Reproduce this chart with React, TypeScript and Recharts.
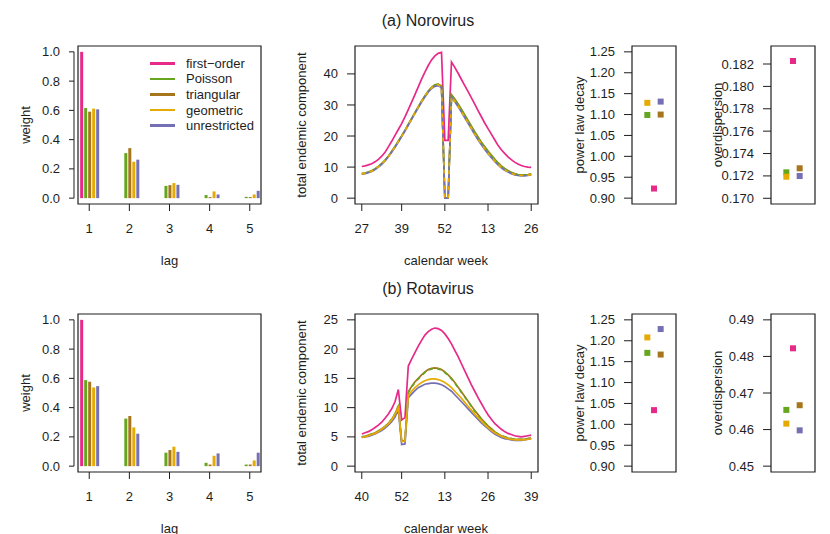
import type { CSSProperties, ReactNode } from "react";
import {
  Bar,
  BarChart,
  Line,
  LineChart,
  ReferenceArea,
  Scatter,
  ScatterChart,
  XAxis,
  YAxis,
} from "recharts";

// models, in the order used by all panels
const modelNames = ["first\u2212order", "Poisson", "triangular", "geometric", "unrestricted"];
const modelKeys = ["firstOrder", "poisson", "triangular", "geometric", "unrestricted"];
const modelColors = ["#E7298A", "#66A61E", "#A6761D", "#E6AB02", "#7570B3"];
const modelOffsets = [0, -1, 1, -1, 1];
const lineDrawOrder = [0, 2, 1, 4, 3];
// where two curves coincide one of them is dashed
const noroLineDashes = [undefined, undefined, undefined, "4 4", undefined];
const rotaLineDashes = [undefined, "4 4", undefined, undefined, undefined];

// lag weights
const lags = [1, 2, 3, 4, 5];
const noroWFirstOrder = [1, 0, 0, 0, 0];
const noroWPoisson = [0.616, 0.308, 0.084, 0.021, 0.009];
const noroWTriangular = [0.591, 0.342, 0.089, 0.007, 0.007];
const noroWGeometric = [0.612, 0.249, 0.103, 0.046, 0.025];
const noroWUnrestricted = [0.607, 0.263, 0.091, 0.025, 0.05];

const rotaWFirstOrder = [1, 0, 0, 0, 0];
const rotaWPoisson = [0.588, 0.325, 0.092, 0.023, 0.011];
const rotaWTriangular = [0.577, 0.343, 0.11, 0.011, 0.011];
const rotaWGeometric = [0.538, 0.265, 0.133, 0.071, 0.039];
const rotaWUnrestricted = [0.547, 0.222, 0.098, 0.087, 0.092];

// calendar weeks
const noroWeeks = [
  27, 28, 29, 30, 31, 32, 33, 34, 35, 36, 37, 38, 39, 40, 41, 42, 43, 44, 45, 46, 47, 48, 49, 50, 51, 52,
  1, 2, 3, 4, 5, 6, 7, 8, 9, 10, 11, 12, 13, 14, 15, 16, 17, 18, 19, 20, 21, 22, 23, 24, 25, 26,
];
const noroTickWeeks = [27, 39, 52, 13, 26];
const rotaWeeks = [
  40, 41, 42, 43, 44, 45, 46, 47, 48, 49, 50, 51, 52,
  1, 2, 3, 4, 5, 6, 7, 8, 9, 10, 11, 12, 13, 14, 15, 16, 17, 18, 19, 20, 21, 22, 23, 24, 25, 26,
  27, 28, 29, 30, 31, 32, 33, 34, 35, 36, 37, 38, 39,
];
const rotaTickWeeks = [40, 52, 13, 26, 39];

// total endemic component
const noroEndFirstOrder = [
  10.2, 10.4, 10.7, 11.1, 11.7, 12.5, 13.5, 14.8, 16.5, 18.3, 20.2, 22.1, 24.0, 26.2, 28.5, 30.9, 33.3,
  35.8, 38.3, 40.6, 42.7, 44.5, 45.8, 46.6, 46.9, 18.6, 18.6, 43.8, 42.1, 40.2, 38.2, 36.2, 34.3, 32.3,
  30.3, 28.2, 26.2, 24.2, 22.4, 20.6, 18.8, 17.0, 15.6, 14.4, 13.3, 12.4, 11.6, 11.0, 10.5, 10.2, 10.0, 9.9,
];
const noroEndPoisson = [
  7.9, 8.1, 8.4, 8.8, 9.4, 10.2, 11.1, 12.2, 13.5, 15.0, 16.6, 18.3, 20.0, 21.8, 23.7, 25.6, 27.5, 29.4,
  31.2, 32.9, 34.4, 35.6, 36.4, 36.6, 36.0, 0, 0, 33.1, 31.7, 30.1, 28.4, 26.6, 24.8, 23.0, 21.2, 19.5,
  17.8, 16.4, 15.0, 13.7, 12.4, 11.2, 10.2, 9.4, 8.7, 8.2, 7.8, 7.5, 7.4, 7.4, 7.5, 7.7,
];
const noroEndTriangular = [
  7.9, 8.1, 8.4, 8.8, 9.4, 10.2, 11.1, 12.2, 13.5, 15.0, 16.6, 18.3, 20.0, 21.8, 23.7, 25.6, 27.5, 29.4,
  31.2, 32.9, 34.4, 35.7, 36.5, 36.7, 36.1, 0, 0, 33.3, 31.9, 30.3, 28.6, 26.8, 25.0, 23.2, 21.4, 19.7,
  18.0, 16.6, 15.2, 13.9, 12.6, 11.4, 10.4, 9.6, 8.9, 8.3, 7.9, 7.6, 7.5, 7.5, 7.6, 7.8,
];
const noroEndGeometric = [
  7.8, 8.0, 8.3, 8.7, 9.3, 10.1, 11.0, 12.1, 13.4, 14.9, 16.5, 18.2, 19.9, 21.7, 23.6, 25.5, 27.4, 29.3,
  31.1, 32.8, 34.3, 35.5, 36.3, 36.5, 35.8, 0, 0, 32.6, 31.2, 29.6, 27.9, 26.1, 24.3, 22.5, 20.7, 19.0,
  17.4, 15.9, 14.5, 13.2, 12.0, 10.9, 9.9, 9.1, 8.5, 8.0, 7.6, 7.4, 7.3, 7.3, 7.4, 7.6,
];
const noroEndUnrestricted = [
  7.7, 7.9, 8.2, 8.6, 9.2, 10.0, 10.9, 12.0, 13.3, 14.8, 16.4, 18.1, 19.8, 21.6, 23.5, 25.4, 27.3, 29.1,
  30.9, 32.6, 34.1, 35.3, 36.0, 36.2, 35.6, 0, 0, 32.4, 31.0, 29.4, 27.7, 25.9, 24.1, 22.3, 20.5, 18.8,
  17.2, 15.7, 14.3, 13.0, 11.8, 10.7, 9.8, 9.0, 8.4, 7.9, 7.5, 7.3, 7.2, 7.2, 7.3, 7.5,
];

const rotaEndFirstOrder = [
  5.5, 5.7, 5.9, 6.2, 6.6, 7.0, 7.5, 8.2, 8.9, 9.8, 11.0, 13.1, 7.9, 8.3, 17.1, 18.3, 19.4, 20.5, 21.5,
  22.4, 23.0, 23.4, 23.6, 23.5, 23.2, 22.6, 21.8, 20.9, 19.8, 18.7, 17.5, 16.3, 15.1, 13.9, 12.8, 11.7,
  10.7, 9.7, 8.8, 8.0, 7.3, 6.8, 6.3, 5.9, 5.6, 5.4, 5.2, 5.1, 5.0, 5.1, 5.2, 5.3,
];
const rotaEndPoisson = [
  5.0, 5.1, 5.3, 5.5, 5.7, 6.0, 6.4, 6.8, 7.3, 8.0, 8.9, 10.2, 4.2, 4.4, 12.6, 13.5, 14.3, 14.9, 15.5,
  16.0, 16.4, 16.6, 16.7, 16.6, 16.4, 16.0, 15.5, 14.9, 14.2, 13.4, 12.6, 11.8, 11.0, 10.2, 9.4, 8.7,
  8.0, 7.4, 6.8, 6.3, 5.9, 5.5, 5.2, 5.0, 4.8, 4.7, 4.6, 4.6, 4.6, 4.6, 4.7, 4.8,
];
const rotaEndTriangular = [
  5.0, 5.1, 5.3, 5.5, 5.7, 6.0, 6.4, 6.8, 7.3, 8.0, 8.9, 10.3, 4.3, 4.4, 12.7, 13.6, 14.4, 15.0, 15.6,
  16.1, 16.5, 16.7, 16.8, 16.7, 16.5, 16.1, 15.6, 15.0, 14.3, 13.5, 12.7, 11.9, 11.1, 10.3, 9.5, 8.8,
  8.1, 7.5, 6.9, 6.4, 5.9, 5.5, 5.2, 5.0, 4.8, 4.7, 4.6, 4.6, 4.6, 4.6, 4.7, 4.8,
];
const rotaEndGeometric = [
  4.9, 5.0, 5.2, 5.4, 5.6, 5.9, 6.3, 6.7, 7.2, 7.9, 8.8, 10.0, 4.2, 4.3, 12.1, 12.8, 13.4, 13.9, 14.3,
  14.6, 14.8, 14.9, 14.9, 14.8, 14.6, 14.3, 13.9, 13.4, 12.8, 12.2, 11.6, 10.9, 10.2, 9.6, 8.9, 8.3,
  7.7, 7.1, 6.6, 6.1, 5.7, 5.4, 5.1, 4.9, 4.7, 4.6, 4.5, 4.5, 4.5, 4.5, 4.6, 4.7,
];
const rotaEndUnrestricted = [
  4.9, 5.0, 5.1, 5.3, 5.5, 5.8, 6.1, 6.5, 7.0, 7.6, 8.4, 9.6, 3.7, 3.8, 11.7, 12.3, 12.9, 13.4, 13.7,
  14.0, 14.1, 14.2, 14.2, 14.1, 13.9, 13.6, 13.2, 12.8, 12.2, 11.6, 11.0, 10.4, 9.8, 9.2, 8.6, 8.0,
  7.4, 6.9, 6.4, 5.9, 5.5, 5.2, 4.9, 4.7, 4.6, 4.5, 4.4, 4.4, 4.4, 4.5, 4.6, 4.7,
];

// parameter estimates (first-order, Poisson, triangular, geometric, unrestricted)
const noroDecay = [0.923, 1.099, 1.1, 1.128, 1.131];
const noroOverdisp = [0.18227, 0.17232, 0.17268, 0.17193, 0.17199];
const rotaDecay = [1.034, 1.171, 1.167, 1.208, 1.228];
const rotaOverdisp = [0.48222, 0.46538, 0.46666, 0.46163, 0.45979];

// axis ticks
const weightTicks = [0, 0.2, 0.4, 0.6, 0.8, 1.0];
const noroEndTicks = [0, 10, 20, 30, 40];
const rotaEndTicks = [0, 5, 10, 15, 20, 25];
const decayTicks = [0.9, 0.95, 1.0, 1.05, 1.1, 1.15, 1.2, 1.25];
const noroDispTicks = [0.17, 0.172, 0.174, 0.176, 0.178, 0.18, 0.182];
const rotaDispTicks = [0.45, 0.46, 0.47, 0.48, 0.49];

// layout
const FONT = '"Liberation Sans", Arial, Helvetica, sans-serif';
const INK = "#1e1e1e";
const BOX_H = 158;
const ROW_TOP = [46, 314];
const COL_LEFT = [78, 355, 632, 771];
const COL_W = [183, 183, 44, 44];
const PAD_L = 60;
const PAD_T = 8;
const PAD_R = 8;
const PAD_B = 40;

type AnyProps = any;

function frame(col: number, row: number): CSSProperties {
  return { position: "absolute", left: COL_LEFT[col] - PAD_L, top: ROW_TOP[row] - PAD_T };
}

function YTick(props: AnyProps) {
  const { x = 0, y = 0, payload, digits, gap, len, step, last } = props;
  const v = payload?.value ?? 0;
  const ax = x - gap;
  return (
    <g>
      <line x1={ax - len} x2={ax} y1={y} y2={y} stroke={INK} strokeWidth={1} />
      {gap > 0 && v < last - 1e-9 ? (
        <line x1={ax} x2={ax} y1={y} y2={y - step} stroke={INK} strokeWidth={1} />
      ) : null}
      <text
        x={ax - len - 9}
        y={y}
        dy="0.35em"
        textAnchor="end"
        fontSize={13}
        fontFamily={FONT}
        fill={INK}
      >
        {v.toFixed(digits)}
      </text>
    </g>
  );
}

function XTick(props: AnyProps) {
  const { x = 0, y = 0, payload, format } = props;
  return (
    <g>
      <line x1={x} x2={x} y1={y} y2={y + 7} stroke={INK} strokeWidth={1} />
      <text
        x={x}
        y={y + 24}
        dy="0.35em"
        textAnchor="middle"
        fontSize={13}
        fontFamily={FONT}
        fill={INK}
      >
        {format(payload?.value)}
      </text>
    </g>
  );
}

function yAxisFor(domain: number[], ticks: number[], digits: number, gap = 0, len = 8) {
  const step = ((ticks[1] - ticks[0]) / (domain[1] - domain[0])) * BOX_H;
  return (
    <YAxis
      type="number"
      domain={domain}
      ticks={ticks}
      interval={0}
      allowDataOverflow
      width={PAD_L}
      axisLine={false}
      tickLine={false}
      tickSize={0}
      tickMargin={0}
      tick={(p: AnyProps) => (
        <YTick {...p} digits={digits} gap={gap} len={len} step={step} last={ticks[ticks.length - 1]} />
      )}
    />
  );
}

function boxFor(xd: number[], yd: number[]) {
  return (
    <ReferenceArea
      x1={xd[0]}
      x2={xd[1]}
      y1={yd[0]}
      y2={yd[1]}
      fill="none"
      stroke={INK}
      strokeWidth={1.2}
      ifOverflow="visible"
    />
  );
}

function WeightPanel({ row, series }: { row: number; series: number[][] }) {
  const data = lags.map((lag, i) => {
    const r: Record<string, number> = { lag };
    modelKeys.forEach((k, m) => (r[k] = series[m][i]));
    return r;
  });
  const xd = [0.72, 5.28];
  const yd = [-0.04, 1.04];
  return (
    <div style={frame(0, row)}>
      <BarChart
        width={PAD_L + COL_W[0] + PAD_R}
        height={PAD_T + BOX_H + PAD_B}
        data={data}
        margin={{ top: PAD_T, right: PAD_R, bottom: 0, left: 0 }}
        barGap={1}
      >
        <XAxis
          type="number"
          dataKey="lag"
          domain={xd}
          ticks={lags}
          interval={0}
          allowDataOverflow
          height={PAD_B}
          axisLine={false}
          tickLine={false}
          tickSize={0}
          tickMargin={0}
          tick={(p: AnyProps) => <XTick {...p} format={(v: number) => String(v)} />}
        />
        {yAxisFor(yd, weightTicks, 1, 4, 5)}
        {boxFor(xd, yd)}
        {modelKeys.map((k, m) => (
          <Bar key={k} dataKey={k} fill={modelColors[m]} barSize={3} isAnimationActive={false} />
        ))}
      </BarChart>
    </div>
  );
}

function SeasonPanel(props: {
  row: number;
  weeks: number[];
  tickWeeks: number[];
  series: number[][];
  dashes: (string | undefined)[];
  yDomain: number[];
  yTicks: number[];
}) {
  const { row, weeks, tickWeeks, series, dashes, yDomain, yTicks } = props;
  const data = weeks.map((week, i) => {
    const r: Record<string, number> = { i, week };
    modelKeys.forEach((k, m) => (r[k] = series[m][i]));
    return r;
  });
  const n = weeks.length - 1;
  const xd = [-0.04 * n, n * 1.04];
  return (
    <div style={frame(1, row)}>
      <LineChart
        width={PAD_L + COL_W[1] + PAD_R}
        height={PAD_T + BOX_H + PAD_B}
        data={data}
        margin={{ top: PAD_T, right: PAD_R, bottom: 0, left: 0 }}
      >
        <XAxis
          type="number"
          dataKey="i"
          domain={xd}
          ticks={tickWeeks.map((w) => weeks.indexOf(w))}
          interval={0}
          allowDataOverflow
          height={PAD_B}
          axisLine={false}
          tickLine={false}
          tickSize={0}
          tickMargin={0}
          tick={(p: AnyProps) => <XTick {...p} format={(v: number) => String(weeks[v])} />}
        />
        {yAxisFor(yDomain, yTicks, 0)}
        {boxFor(xd, yDomain)}
        {lineDrawOrder.map((m) => (
          <Line
            key={modelKeys[m]}
            type="linear"
            dataKey={modelKeys[m]}
            stroke={modelColors[m]}
            strokeWidth={1.7}
            strokeDasharray={dashes[m]}
            dot={false}
            activeDot={false}
            isAnimationActive={false}
          />
        ))}
      </LineChart>
    </div>
  );
}

function EstimatePanel(props: {
  col: number;
  row: number;
  values: number[];
  yDomain: number[];
  yTicks: number[];
  digits: number;
}) {
  const { col, row, values, yDomain, yTicks, digits } = props;
  const xd = [-3.3, 3.3];
  return (
    <div style={frame(col, row)}>
      <ScatterChart
        width={PAD_L + COL_W[col] + PAD_R}
        height={PAD_T + BOX_H + PAD_B}
        margin={{ top: PAD_T, right: PAD_R, bottom: PAD_B, left: 0 }}
      >
        <XAxis type="number" dataKey="x" domain={xd} allowDataOverflow hide />
        {yAxisFor(yDomain, yTicks, digits)}
        {boxFor(xd, yDomain)}
        {modelKeys.map((k, m) => (
          <Scatter
            key={k}
            dataKey="y"
            data={[{ x: modelOffsets[m], y: values[m] }]}
            fill={modelColors[m]}
            isAnimationActive={false}
            shape={(p: AnyProps) => (
              <rect x={p.cx - 3} y={p.cy - 3} width={6} height={6} fill={modelColors[m]} />
            )}
          />
        ))}
      </ScatterChart>
    </div>
  );
}

function Text(props: { x: number; y: number; children: ReactNode; rotate?: boolean; size?: number }) {
  const { x, y, children, rotate, size = 13 } = props;
  return (
    <div
      style={{
        position: "absolute",
        left: x,
        top: y,
        transform: `translate(-50%, -50%)${rotate ? " rotate(-90deg)" : ""}`,
        fontSize: size,
        lineHeight: 1,
        whiteSpace: "nowrap",
        color: INK,
      }}
    >
      {children}
    </div>
  );
}

function WeightLegend() {
  return (
    <div style={{ position: "absolute", left: 150, top: 55.5 }}>
      {modelNames.map((name, m) => (
        <div key={name} style={{ display: "flex", alignItems: "center", height: 15.6 }}>
          <div style={{ width: 25, height: 2.5, background: modelColors[m] }} />
          <div style={{ marginLeft: 11, fontSize: 13, lineHeight: 1, color: INK }}>{name}</div>
        </div>
      ))}
    </div>
  );
}

function RowLabels({ row }: { row: number }) {
  const dy = ROW_TOP[row] - ROW_TOP[0];
  return (
    <>
      <Text x={25} y={125 + dy} rotate>weight</Text>
      <Text x={301} y={125 + dy} rotate>total endemic component</Text>
      <Text x={579} y={125 + dy} rotate>power law decay</Text>
      <Text x={716.5} y={125 + dy} rotate>overdispersion</Text>
      <Text x={169.5} y={260 + dy}>lag</Text>
      <Text x={446} y={259.5 + dy}>calendar week</Text>
    </>
  );
}

export default function App() {
  return (
    <div
      style={{
        position: "absolute",
        left: 0,
        top: 0,
        width: 830,
        height: 534,
        background: "#fff",
        overflow: "hidden",
        fontFamily: FONT,
      }}
    >
      <Text x={428} y={21} size={16}>(a) Norovirus</Text>
      <Text x={428} y={289} size={16}>(b) Rotavirus</Text>

      <WeightPanel
        row={0}
        series={[noroWFirstOrder, noroWPoisson, noroWTriangular, noroWGeometric, noroWUnrestricted]}
      />
      <SeasonPanel
        row={0}
        weeks={noroWeeks}
        tickWeeks={noroTickWeeks}
        series={[noroEndFirstOrder, noroEndPoisson, noroEndTriangular, noroEndGeometric, noroEndUnrestricted]}
        dashes={noroLineDashes}
        yDomain={[-1.88, 48.98]}
        yTicks={noroEndTicks}
      />
      <EstimatePanel col={2} row={0} values={noroDecay} yDomain={[0.886, 1.264]} yTicks={decayTicks} digits={2} />
      <EstimatePanel
        col={3}
        row={0}
        values={noroOverdisp}
        yDomain={[0.16949, 0.18361]}
        yTicks={noroDispTicks}
        digits={3}
      />

      <WeightPanel
        row={1}
        series={[rotaWFirstOrder, rotaWPoisson, rotaWTriangular, rotaWGeometric, rotaWUnrestricted]}
      />
      <SeasonPanel
        row={1}
        weeks={rotaWeeks}
        tickWeeks={rotaTickWeeks}
        series={[rotaEndFirstOrder, rotaEndPoisson, rotaEndTriangular, rotaEndGeometric, rotaEndUnrestricted]}
        dashes={rotaLineDashes}
        yDomain={[-1.0, 26.0]}
        yTicks={rotaEndTicks}
      />
      <EstimatePanel col={2} row={1} values={rotaDecay} yDomain={[0.886, 1.264]} yTicks={decayTicks} digits={2} />
      <EstimatePanel
        col={3}
        row={1}
        values={rotaOverdisp}
        yDomain={[0.4484, 0.4916]}
        yTicks={rotaDispTicks}
        digits={2}
      />

      <WeightLegend />
      <RowLabels row={0} />
      <RowLabels row={1} />
    </div>
  );
}
